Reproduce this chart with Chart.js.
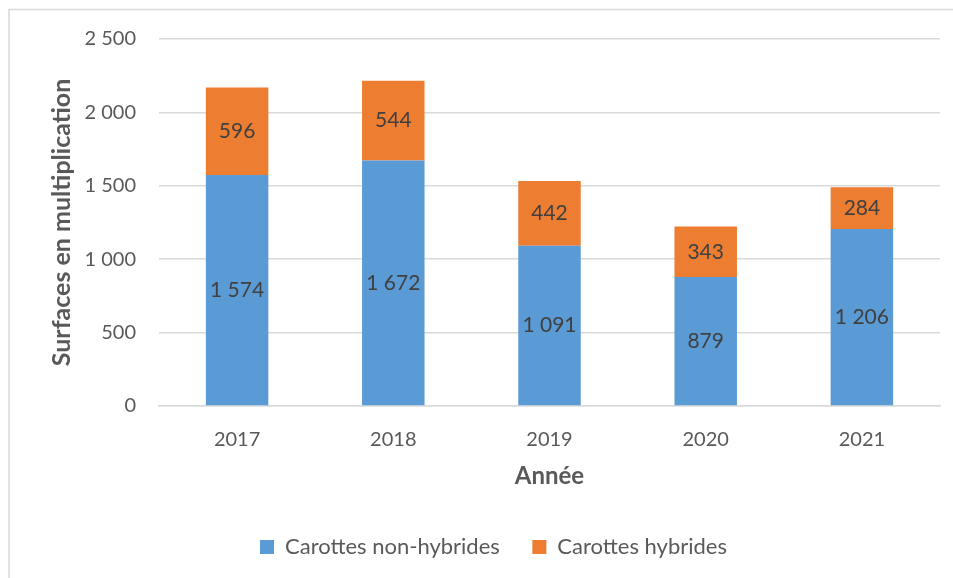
<!DOCTYPE html>
<html><head><meta charset="utf-8">
<script src="https://cdn.jsdelivr.net/npm/chart.js@4"></script>
<style>html,body{margin:0;padding:0;background:#fff;}#wrap{width:953px;height:578px;position:relative;}</style>
</head><body><div id="wrap"><canvas id="c" width="953" height="578"></canvas></div>
<script>
const categories = ['2017','2018','2019','2020','2021'];
const nonHybrides = [1574, 1672, 1091, 879, 1206];
const hybrides = [596, 544, 442, 343, 284];
const seriesNames = ['Carottes non-hybrides', 'Carottes hybrides'];
const yTitle = 'Surfaces en multiplication';
const xTitle = 'Année';

const FONT = 'Lato, "Open Sans", sans-serif';
const fmt = v => String(v).replace(/\B(?=(\d{3})+(?!\d))/g, '\u00a0');

const frame = {
  id: 'frame',
  beforeDraw(chart) {
    const c = chart.ctx; c.save();
    c.fillStyle = '#fff'; c.fillRect(0,0,chart.width,chart.height);
    c.strokeStyle = '#d9d9d9'; c.lineWidth = 1.5;
    c.strokeRect(9, 9.5, 2000, 2000);
    c.restore();
  }
};
const labels = {
  id: 'labels',
  afterDatasetsDraw(chart) {
    const c = chart.ctx; c.save();
    c.font = '21px ' + FONT; c.fillStyle = '#404040';
    c.textAlign = 'center'; c.textBaseline = 'middle';
    chart.data.datasets.forEach((ds, i) => {
      chart.getDatasetMeta(i).data.forEach((bar, j) => {
        const y = (bar.y + bar.base) / 2;
        c.fillText(fmt(ds.data[j]), bar.x, y);
      });
    });
    c.restore();
  }
};

new Chart(document.getElementById('c'), {
  type: 'bar',
  data: {
    labels: categories,
    datasets: [
      { label: seriesNames[0], data: nonHybrides, backgroundColor: '#5b9bd5', categoryPercentage: 1, barPercentage: 0.4 },
      { label: seriesNames[1], data: hybrides, backgroundColor: '#ed7d31', categoryPercentage: 1, barPercentage: 0.4 }
    ]
  },
  options: {
    responsive: false, animation: false,
    layout: { padding: { top: 39, right: 13, left: 47, bottom: 10 } },
    plugins: {
      legend: {
        position: 'bottom',
        labels: {
          font: { family: FONT, size: 22 }, color: '#595959', boxWidth: 14, boxHeight: 14, padding: 10,
          generateLabels(chart) {
            const items = Chart.defaults.plugins.legend.labels.generateLabels(chart);
            items.forEach((it, i) => { if (i < items.length - 1) it.text = it.text + '\u00a0\u00a0\u00a0\u00a0'; });
            return items;
          }
        }
      },
      tooltip: { enabled: false }
    },
    scales: {
      x: {
        stacked: true,
        grid: { display: false },
        border: { color: '#d9d9d9', width: 1.5 },
        ticks: { font: { family: FONT, size: 20 }, color: '#595959', padding: 14 },
        title: { display: true, text: xTitle, font: { family: FONT, size: 24, weight: 'bold' }, color: '#595959', padding: { top: 0, bottom: 35 } },
        afterFit(s) { s.height = 120; }
      },
      y: {
        stacked: true, min: 0, max: 2500,
        border: { display: false },
        grid: { color: '#d9d9d9', lineWidth: 1.5, drawTicks: false },
        ticks: { stepSize: 500, font: { family: FONT, size: 20 }, color: '#595959', padding: 23, callback: v => fmt(v) },
        title: { display: true, text: yTitle, font: { family: FONT, size: 25, weight: 'bold' }, color: '#595959', padding: { top: 0, bottom: 0 } },
        afterFit(s) { s.width = 112; }
      }
    }
  },
  plugins: [frame, labels]
});
</script></body></html>
